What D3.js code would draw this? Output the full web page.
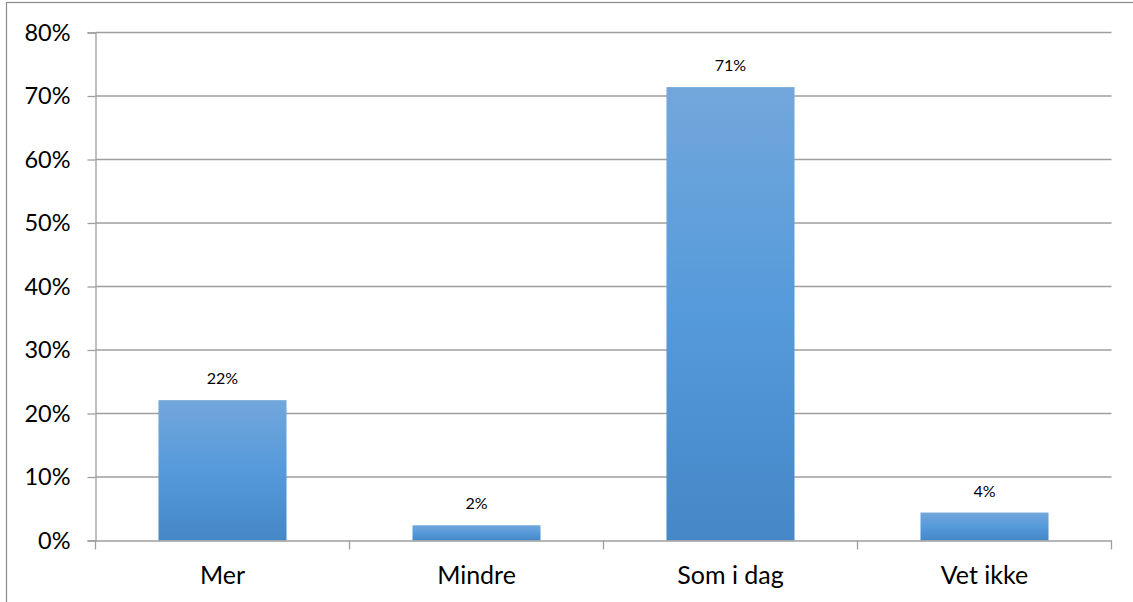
<!DOCTYPE html>
<html>
<head>
<meta charset="utf-8">
<script src="https://cdn.jsdelivr.net/npm/d3@7"></script>
<style>
  html, body { margin: 0; padding: 0; background: #fff; }
  svg { display: block; }
  text { font-family: Lato, "Open Sans", sans-serif; fill: #000; }
</style>
</head>
<body>
<svg id="chart" width="1133" height="602"></svg>
<script>
const categories = ["Mer", "Mindre", "Som i dag", "Vet ikke"];
const values = [0.221, 0.024, 0.714, 0.044];
const valueLabels = ["22%", "2%", "71%", "4%"];
const yTicks = [0, 0.1, 0.2, 0.3, 0.4, 0.5, 0.6, 0.7, 0.8];

const svg = d3.select("#chart");
const W = 1133, H = 602;
const plot = { left: 95.5, right: 1111.5, top: 32.5, bottom: 540.5 };

// outer chart border
svg.append("rect")
  .attr("x", 6.5).attr("y", 2.5)
  .attr("width", W + 20).attr("height", H + 20)
  .attr("fill", "none").attr("stroke", "#8c8c8c").attr("stroke-width", 1.2);

const defs = svg.append("defs");
const grad = defs.append("linearGradient")
  .attr("id", "barGrad").attr("x1", 0).attr("y1", 0).attr("x2", 0).attr("y2", 1);
grad.append("stop").attr("offset", "0%").attr("stop-color", "#72A7DB");
grad.append("stop").attr("offset", "50%").attr("stop-color", "#559ADB");
grad.append("stop").attr("offset", "100%").attr("stop-color", "#4587C7");

const x = d3.scaleBand().domain(categories).range([plot.left, plot.right]).padding(0);
const y = d3.scaleLinear().domain([0, 0.8]).range([plot.bottom, plot.top]);

// gridlines
svg.append("g").selectAll("line").data(yTicks.filter(d => d > 0)).join("line")
  .attr("x1", plot.left).attr("x2", plot.right)
  .attr("y1", d => y(d)).attr("y2", d => y(d))
  .attr("stroke", "#9e9e9e").attr("stroke-width", 1.3);

// y axis
const yAxis = d3.axisLeft(y).tickValues(yTicks).tickFormat(d3.format(".0%"))
  .tickSize(8).tickPadding(17);
const gy = svg.append("g").attr("transform", `translate(${plot.left},0)`).call(yAxis);
gy.select(".domain").attr("stroke", "#9e9e9e").attr("stroke-width", 1.3);
gy.selectAll(".tick line").attr("stroke", "#9e9e9e").attr("stroke-width", 1.3);
gy.selectAll(".tick text").attr("font-size", 23.5).attr("font-family", "Lato, sans-serif").attr("fill", "#000");

// bars
const barW = x.bandwidth() * 0.504;
svg.append("g").selectAll("rect").data(categories).join("rect")
  .attr("x", (d) => x(d) + (x.bandwidth() - barW) / 2)
  .attr("width", barW)
  .attr("y", (d, i) => y(values[i]))
  .attr("height", (d, i) => y(0) - y(values[i]))
  .attr("fill", "url(#barGrad)");

// x axis
const xAxis = d3.axisBottom(x).tickSize(0).tickPadding(26);
const gx = svg.append("g").attr("transform", `translate(0,${plot.bottom})`).call(xAxis);
gx.select(".domain").attr("stroke", "#9e9e9e").attr("stroke-width", 1.3);
gx.selectAll(".tick text").attr("font-size", 25).attr("font-family", "Lato, sans-serif").attr("fill", "#000");
// category boundary ticks
const bounds = categories.map(c => x(c)).concat([plot.right]);
gx.append("g").selectAll("line").data(bounds).join("line")
  .attr("x1", d => d).attr("x2", d => d).attr("y1", 0).attr("y2", 9)
  .attr("stroke", "#9e9e9e").attr("stroke-width", 1.3);

// value labels
svg.append("g").selectAll("text").data(categories).join("text")
  .attr("x", d => x(d) + x.bandwidth() / 2)
  .attr("y", (d, i) => y(values[i]) - 16)
  .attr("text-anchor", "middle")
  .attr("font-size", 16)
  .text((d, i) => valueLabels[i]);
</script>
</body>
</html>
